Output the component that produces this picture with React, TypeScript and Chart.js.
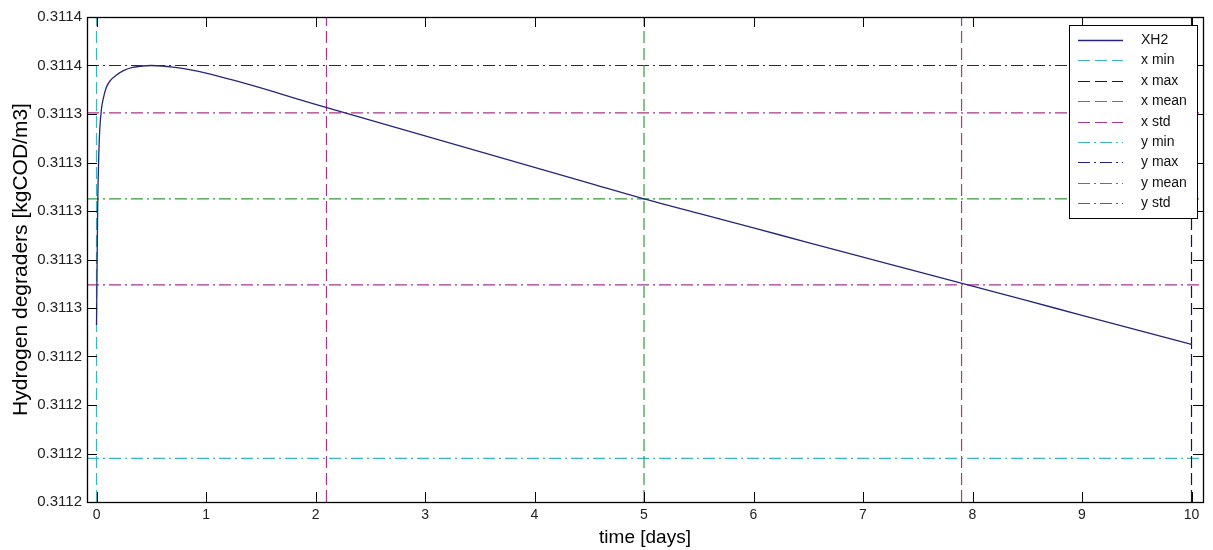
import React, { useEffect, useRef } from "react";
import { Chart, registerables } from "chart.js";

Chart.register(...registerables);

// Simulated hydrogen degrader concentration over time
const timeDays = [
  0, 0.01, 0.02, 0.03, 0.045, 0.06, 0.09, 0.13, 0.18, 0.25,
  0.33, 0.42, 0.5, 0.6, 0.7, 0.86, 1.0, 1.3, 1.6,
  2.0, 2.5, 3, 3.5, 4, 4.5, 5,
  5.5, 6, 6.5, 7, 7.5, 8, 8.5, 9, 9.5, 10,
];
const xh2 = [
  0.311253, 0.3113, 0.311322, 0.311334, 0.311342, 0.311346, 0.311351, 0.311354, 0.311356, 0.311358,
  0.3113592, 0.3113598, 0.31136, 0.3113598, 0.3113593, 0.3113582, 0.3113569, 0.3113533, 0.3113494,
  0.311344, 0.3113375, 0.311331, 0.3113245, 0.311318, 0.3113115, 0.311305,
  0.311299, 0.311293, 0.311287, 0.311281, 0.311275, 0.311269, 0.311263, 0.311257, 0.311251, 0.311245,
];

// Summary statistics of the series
const xStats = { min: 0, max: 10, mean: 5, stdLow: 2.1, stdHigh: 7.9 };
const yStats = { min: 0.311198, max: 0.31136, mean: 0.311305, stdLow: 0.3112695, stdHigh: 0.3113405 };

// Axis limits and ticks
const xAxisRange = [-0.087, 10.105];
const yAxisRange = [0.31118, 0.31138];
const xTickValues = [0, 1, 2, 3, 4, 5, 6, 7, 8, 9, 10];
const xTickLabels = ["0", "1", "2", "3", "4", "5", "6", "7", "8", "9", "10"];
const yTickValues = [
  0.31118, 0.3112, 0.31122, 0.31124, 0.31126, 0.31128, 0.3113, 0.31132, 0.31134, 0.31136, 0.31138,
];
const yTickLabels = [
  "0.3112", "0.3112", "0.3112", "0.3112", "0.3113", "0.3113", "0.3113", "0.3113", "0.3113", "0.3114", "0.3114",
];

const COLORS = {
  curve: "#262678",
  cyan: "#3cb4c6",
  black: "#151540",
  navy: "#22228a",
  green: "#339c3a",
  magenta: "#a8368f",
};
const DASHED = [12, 5];
const DASH_DOT = [12, 4, 2, 4];
const FONT = "'Liberation Sans', Arial, Helvetica, sans-serif";

const vertical = (x: number) => [
  { x, y: yAxisRange[0] },
  { x, y: yAxisRange[1] },
];
const horizontal = (y: number) => [
  { x: xAxisRange[0], y },
  { x: xAxisRange[1], y },
];

const refLine = (label: string, data: any[], color: string, dash: number[], inLegend = true) => ({
  label,
  data,
  borderColor: color,
  borderWidth: 1.2,
  borderDash: dash,
  pointRadius: 0,
  fill: false,
  tension: 0,
  inLegend,
  order: 1,
});

// Inward tick marks on all four sides plus the axes box
const axesBoxPlugin = {
  id: "axesBox",
  afterDraw(chart: any) {
    const { ctx, chartArea } = chart;
    const { left, right, top, bottom } = chartArea;
    const xs = chart.scales.x;
    const ys = chart.scales.y;
    const len = 10;
    ctx.save();
    ctx.strokeStyle = "#000";
    ctx.lineWidth = 1;
    ctx.setLineDash([]);
    ctx.beginPath();
    xTickValues.forEach((v) => {
      const px = Math.round(xs.getPixelForValue(v)) + 0.5;
      ctx.moveTo(px, bottom);
      ctx.lineTo(px, bottom - len);
      ctx.moveTo(px, top);
      ctx.lineTo(px, top + len);
    });
    yTickValues.forEach((v) => {
      const py = Math.round(ys.getPixelForValue(v)) + 0.5;
      ctx.moveTo(left, py);
      ctx.lineTo(left + len, py);
      ctx.moveTo(right, py);
      ctx.lineTo(right - len, py);
    });
    ctx.stroke();
    ctx.lineWidth = 1.3;
    ctx.strokeRect(Math.round(left) + 0.5, Math.round(top) + 0.5, Math.round(right - left), Math.round(bottom - top));
    ctx.restore();
  },
};

// Boxed legend in the upper right corner with line samples
const legendBoxPlugin = {
  id: "legendBox",
  afterDraw(chart: any) {
    const { ctx } = chart;
    const entries = chart.data.datasets.filter((d: any) => d.inLegend);
    const boxX = 1069;
    const boxY = 25;
    const rowH = 20.4;
    const boxW = 128;
    const boxH = 193;
    ctx.save();
    ctx.fillStyle = "#fff";
    ctx.fillRect(boxX, boxY, boxW, boxH);
    ctx.strokeStyle = "#000";
    ctx.lineWidth = 1;
    ctx.setLineDash([]);
    ctx.strokeRect(boxX + 0.5, boxY + 0.5, boxW, boxH);
    ctx.font = `14px ${FONT}`;
    ctx.textBaseline = "middle";
    ctx.textAlign = "left";
    entries.forEach((d: any, i: number) => {
      const cy = Math.round(boxY + 15 + i * rowH) + 0.5;
      ctx.strokeStyle = d.borderColor;
      ctx.lineWidth = d.borderWidth;
      ctx.setLineDash(d.borderDash || []);
      ctx.beginPath();
      ctx.moveTo(1078, cy);
      ctx.lineTo(1123, cy);
      ctx.stroke();
      ctx.setLineDash([]);
      ctx.fillStyle = "#111";
      ctx.fillText(d.label, 1141, cy);
    });
    ctx.restore();
  },
};

export default function App() {
  const canvasRef = useRef<HTMLCanvasElement | null>(null);

  useEffect(() => {
    document.body.style.margin = "0";
    const canvas = canvasRef.current;
    if (!canvas) return;

    const curve = timeDays.map((t, i) => ({ x: t, y: xh2[i] }));

    const chart = new Chart(canvas, {
      type: "line",
      data: {
        datasets: [
          {
            label: "XH2",
            data: curve,
            borderColor: COLORS.curve,
            borderWidth: 1.3,
            pointRadius: 0,
            fill: false,
            cubicInterpolationMode: "monotone",
            inLegend: true,
            order: 0,
          } as any,
          refLine("x min", vertical(xStats.min), COLORS.cyan, DASHED),
          refLine("x max", vertical(xStats.max), COLORS.black, DASHED),
          refLine("x mean", vertical(xStats.mean), COLORS.green, DASHED),
          refLine("x std", vertical(xStats.stdLow), COLORS.magenta, DASHED),
          refLine("x std", vertical(xStats.stdHigh), COLORS.magenta, DASHED, false),
          refLine("y min", horizontal(yStats.min), COLORS.cyan, DASH_DOT),
          refLine("y max", horizontal(yStats.max), COLORS.navy, DASH_DOT),
          refLine("y mean", horizontal(yStats.mean), COLORS.green, DASH_DOT),
          refLine("y std", horizontal(yStats.stdHigh), COLORS.magenta, DASH_DOT),
          refLine("y std", horizontal(yStats.stdLow), COLORS.magenta, DASH_DOT, false),
        ],
      },
      options: {
        animation: false,
        responsive: true,
        maintainAspectRatio: false,
        layout: { padding: { left: 0, top: 17, right: 10, bottom: 0 } },
        plugins: {
          legend: { display: false },
          tooltip: { enabled: false },
        },
        scales: {
          x: {
            type: "linear",
            min: xAxisRange[0],
            max: xAxisRange[1],
            bounds: "data",
            grid: { display: false, drawTicks: false },
            border: { display: false },
            afterBuildTicks: (scale: any) => {
              scale.ticks = xTickValues.map((v) => ({ value: v }));
            },
            afterFit: (scale: any) => {
              scale.height = 48;
            },
            ticks: {
              autoSkip: false,
              maxRotation: 0,
              padding: 5,
              color: "#222",
              font: { family: FONT, size: 14 },
              callback: (_v: any, i: number) => xTickLabels[i],
            },
            title: {
              display: true,
              text: "time [days]",
              color: "#000",
              font: { family: FONT, size: 19 },
              padding: { top: 0, bottom: 1 },
            },
          },
          y: {
            type: "linear",
            min: yAxisRange[0],
            max: yAxisRange[1],
            bounds: "data",
            grid: { display: false, drawTicks: false },
            border: { display: false },
            afterBuildTicks: (scale: any) => {
              scale.ticks = yTickValues.map((v) => ({ value: v }));
            },
            afterFit: (scale: any) => {
              scale.width = 87;
            },
            ticks: {
              autoSkip: false,
              padding: 5,
              color: "#222",
              font: { family: FONT, size: 15 },
              callback: (_v: any, i: number) => yTickLabels[i],
            },
            title: {
              display: true,
              text: "Hydrogen degraders [kgCOD/m3]",
              color: "#000",
              font: { family: FONT, size: 21 },
              padding: { top: 9, bottom: 0 },
            },
          },
        },
      } as any,
      plugins: [axesBoxPlugin, legendBoxPlugin],
    });

    return () => chart.destroy();
  }, []);

  return (
    <div style={{ width: 1213, height: 550, position: "relative", background: "#fff" }}>
      <canvas ref={canvasRef} />
    </div>
  );
}
